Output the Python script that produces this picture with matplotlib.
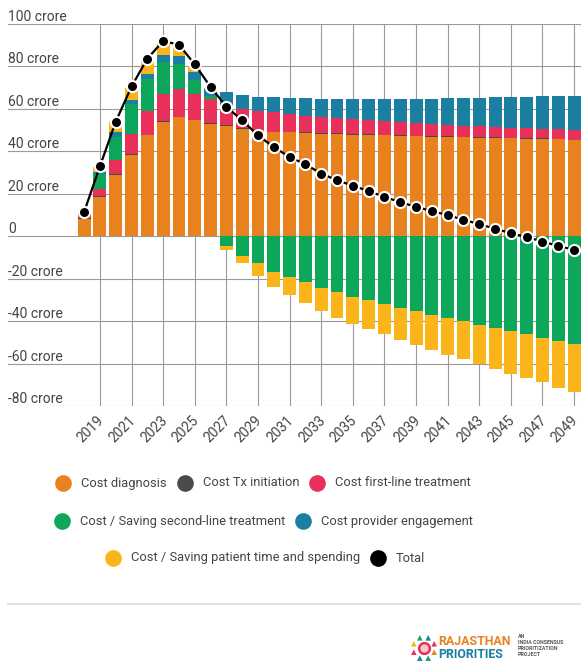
import numpy as np
import matplotlib
matplotlib.use("Agg")
import matplotlib.pyplot as plt
import matplotlib.transforms as mtransforms

plt.rcParams['font.family'] = ['Roboto', 'DejaVu Sans']

years = list(range(2018, 2050))

# values in crore
cost_diagnosis = [8.3, 18.5, 29.0, 38.5, 47.5, 53.8, 56.0, 54.6, 53.0, 52.0, 50.7, 49.9, 49.0, 49.0, 48.8, 48.3,
                  48.2, 47.8, 47.7, 47.5, 47.2, 47.1, 46.9, 46.7, 46.6, 46.4, 46.3, 46.1, 46.0, 45.8, 45.6, 45.2]
cost_tx_init = [0.3, 0.3, 0.3, 0.3, 0.3, 0.3, 0.3, 0.3, 0.3, 0.3, 0.3, 0.3, 0.3, 0.3, 0.3, 0.3,
                0.3, 0.3, 0.3, 0.3, 0.3, 0.3, 0.3, 0.3, 0.3, 0.3, 0.3, 0.3, 0.3, 0.3, 0.3, 0.3]
cost_first_line = [0.8, 3.6, 6.4, 9.2, 11.0, 13.1, 13.3, 12.3, 11.2, 8.6, 8.8, 8.6, 9.0, 8.4, 7.5, 7.6,
                   7.3, 7.3, 6.9, 6.5, 6.3, 6.1, 5.8, 5.5, 5.2, 5.1, 4.8, 4.7, 4.7, 4.6, 4.5, 4.4]
second_line = [0.5, 7.1, 10.9, 14.5, 15.2, 15.1, 11.7, 6.2, 1.5, -4.7, -9.4, -12.8, -16.9, -19.1, -21.8, -24.3,
               -26.5, -28.5, -30.1, -32.1, -33.7, -35.1, -36.9, -38.4, -39.8, -41.6, -43.1, -44.7, -46.3, -47.8, -49.4, -51.0]
provider_engagement = [0.4, 0.8, 2.3, 1.8, 2.6, 3.3, 3.4, 4.2, 3.5, 6.9, 6.9, 6.7, 7.1, 7.4, 8.3, 8.6,
                       8.7, 9.1, 9.6, 10.2, 10.7, 11.0, 11.5, 12.8, 13.2, 13.5, 14.2, 14.5, 14.6, 15.4, 15.7, 16.2]
patient_time = [1.0, 2.5, 4.8, 5.5, 6.0, 6.0, 4.8, 2.5, 0.5, -1.9, -3.4, -6.0, -7.0, -8.7, -9.6, -10.8,
                -11.8, -12.9, -13.8, -14.2, -15.4, -16.2, -16.7, -17.6, -17.9, -18.8, -19.5, -20.1, -20.4, -21.1, -22.0, -22.4]
total = [11.5, 33.0, 54.0, 70.6, 83.7, 92.0, 90.2, 81.0, 70.3, 61.0, 54.6, 47.5, 42.0, 37.3, 33.9, 29.5,
         26.4, 23.8, 21.3, 18.5, 16.1, 13.8, 11.9, 9.9, 7.8, 5.6, 3.6, 1.4, -0.4, -2.5, -4.6, -6.4]

labels = ['Cost diagnosis', 'Cost Tx initiation', 'Cost first-line treatment',
          'Cost / Saving second-line treatment', 'Cost provider engagement',
          'Cost / Saving patient time and spending', 'Total']
colors = ['#e8821e', '#4a4a4a', '#e8305a', '#0ea65a', '#1a7fa0', '#fbb51a', '#000000']
series = [cost_diagnosis, cost_tx_init, cost_first_line, second_line, provider_engagement, patient_time]

ytick_vals = [-80, -60, -40, -20, 0, 20, 40, 60, 80, 100]
ytick_labels = ['-80 crore', '-60 crore', '-40 crore', '-20 crore', '0',
                '20 crore', '40 crore', '60 crore', '80 crore', '100 crore']
xtick_years = list(range(2019, 2050, 2))

txt_c = '#444444'
W, H = 581, 663
fig = plt.figure(figsize=(W / 100, H / 100), dpi=100)
ax = fig.add_axes([8 / W, 1 - 406 / H, 573 / W, 382 / H])
ax.set_xlim(2013.18, 2049.44)
ax.set_ylim(-80, 100)
for s in ax.spines.values():
    s.set_visible(False)

grid_c = '#9a9a9a'
for v in ytick_vals:
    ax.axhline(v, color=grid_c, lw=0.8, zorder=0)
for yr in xtick_years:
    ax.axvline(yr, color=grid_c, lw=0.8, zorder=0)

# stacked bars, positives and negatives stacked separately
x = np.array(years)
pos = np.zeros(len(years))
neg = np.zeros(len(years))
for vals, c in zip(series, colors):
    v = np.array(vals)
    bottom = np.where(v >= 0, pos, neg)
    ax.bar(x, v, bottom=bottom, width=0.82, color=c, linewidth=0, zorder=2)
    pos = pos + np.where(v >= 0, v, 0)
    neg = neg + np.where(v < 0, v, 0)

ax.plot(years, total, color='black', lw=1.6, marker='o', ms=8, mfc='black',
        mec='white', mew=1.5, zorder=4, clip_on=False)

# y labels sit above the gridlines at the left
ylab_tr = mtransforms.blended_transform_factory(ax.transAxes, ax.transData) + \
    mtransforms.ScaledTranslation(0, 3 / 100, fig.dpi_scale_trans)
for v, lab in zip(ytick_vals, ytick_labels):
    ax.text(0, v, lab, transform=ylab_tr, fontsize=10, color=txt_c, va='baseline', ha='left')

ax.set_yticks([])
ax.set_xticks(xtick_years)
ax.set_xticklabels([str(y) for y in xtick_years], rotation=45, ha='right', va='top',
                   rotation_mode='anchor', fontsize=10, color=txt_c)
ax.tick_params(axis='x', length=0, pad=0)
off = mtransforms.ScaledTranslation(-3 / 100, -7 / 100, fig.dpi_scale_trans)
for lab in ax.get_xticklabels():
    lab.set_transform(lab.get_transform() + off)

# overlay in pixel coords for legend, divider and logo
lay = fig.add_axes([0, 0, 1, 1], zorder=-1)
lay.set_xlim(0, W)
lay.set_ylim(H, 0)
lay.axis('off')

legend_pos = [(63, 483), (185, 483), (317, 483), (62, 521), (303, 521), (113, 558), (378, 558)]
for (mx, my), lab, c in zip(legend_pos, labels, colors):
    lay.plot(mx, my, marker='o', ms=12, color=c, mec='none')
    lay.text(mx + 18, my, lab, fontsize=9.3, color=txt_c, va='center', ha='left')

lay.plot([8, W], [604, 604], color='#e2e2e2', lw=1.5)

# logo
cx, cy = 424, 648
ang = np.linspace(0, 2 * np.pi, 9)[:-1] + np.pi / 8
dot_cols = ['#e8821e', '#0ea65a', '#1a7fa0', '#e8305a', '#fbb51a', '#0ea65a', '#1a7fa0', '#e8305a']
lay.scatter(cx + 11 * np.cos(ang), cy + 11 * np.sin(ang), s=16, c=dot_cols, marker='^', linewidths=0)
lay.scatter([cx], [cy], s=60, facecolor='#f6c9c9', edgecolor='#e8305a', linewidths=1.8)
lay.text(438, 641.5, 'RAJASTHAN', fontsize=8.9, fontweight='bold', color='#e8821e', va='center', ha='left')
lay.text(438, 655, 'PRIORITIES', fontsize=8.9, fontweight='bold', color='#1a7fa0', va='center', ha='left')
for i, t in enumerate(['AN', 'INDIA CONSENSUS', 'PRIORITIZATION', 'PROJECT']):
    lay.text(518, 637 + 6 * i, t, fontsize=3.8, fontweight='bold', color='#555555', va='center', ha='left')

fig.savefig('out.png', dpi=100)
